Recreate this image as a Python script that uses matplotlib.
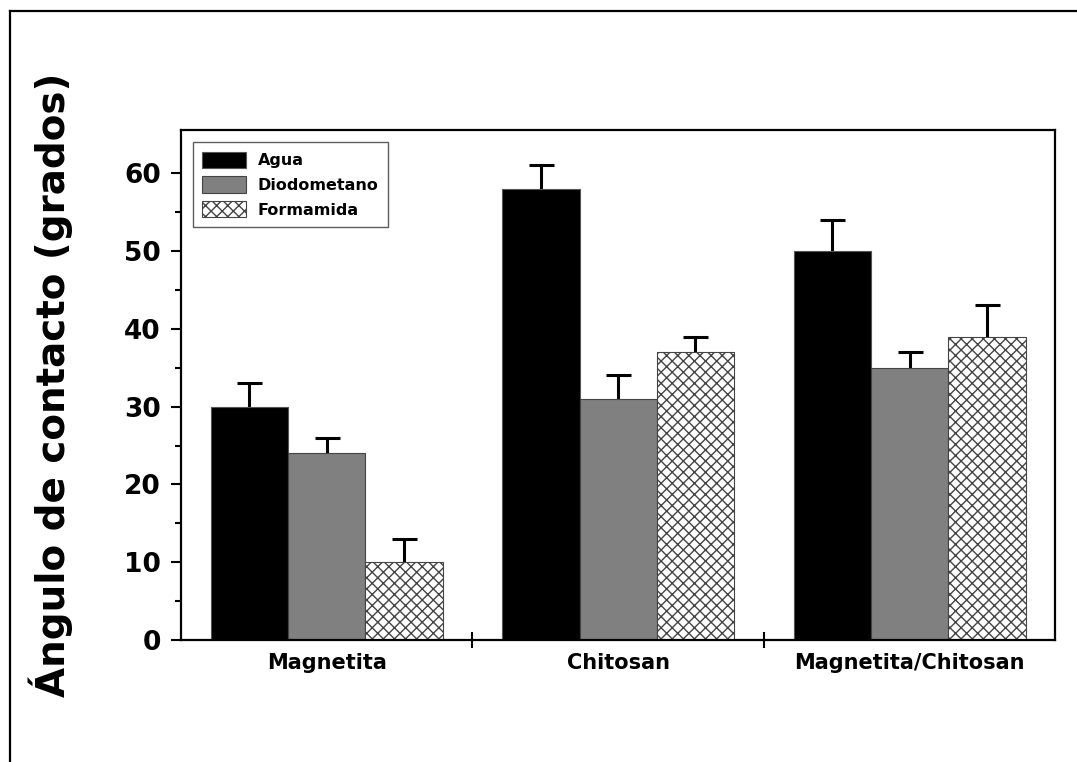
import numpy as np
import matplotlib.pyplot as plt
from matplotlib.lines import Line2D

# ============================================================
# DATA
# ============================================================

categories = ["Magnetita", "Chitosan", "Magnetita/Chitosan"]
series = ["Agua", "Diodometano", "Formamida"]

agua = [30, 58, 50]
agua_err = [3, 3, 4]

diodo = [24, 31, 35]
diodo_err = [2, 3, 2]

forma = [10, 37, 39]
forma_err = [3, 2, 4]

yticks = [0, 10, 20, 30, 40, 50, 60]

# ============================================================
# STYLE
# ============================================================

plt.rcParams["font.family"] = ["DejaVu Sans"]
plt.rcParams["font.weight"] = "bold"
plt.rcParams["hatch.color"] = "#666666"
plt.rcParams["hatch.linewidth"] = 1.0

fig = plt.figure(figsize=(10.77, 7.62), dpi=100)
ax = fig.add_axes([0.168, 0.160, 0.812, 0.669])

x = np.arange(len(categories)) + 0.5
w = 0.265

# error bars sit behind the bars so only the upper half shows
err_kw = dict(fmt="none", ecolor="black", elinewidth=2.2, capsize=9,
              capthick=2.2, zorder=1)

ax.errorbar(x - w, agua, yerr=agua_err, **err_kw)
ax.errorbar(x, diodo, yerr=diodo_err, **err_kw)
ax.errorbar(x + w, forma, yerr=forma_err, **err_kw)

ax.bar(x - w, agua, w, color="black", edgecolor="#555555", linewidth=0.8,
       label=series[0], zorder=2)
ax.bar(x, diodo, w, color="#808080", edgecolor="#444444", linewidth=0.8,
       label=series[1], zorder=2)
ax.bar(x + w, forma, w, color="white", edgecolor="#444444", linewidth=0.8,
       hatch="xxx", label=series[2], zorder=2)

# ============================================================
# AXES
# ============================================================

ax.set_xlim(0, 3)
ax.set_ylim(0, 65.5)

ax.set_yticks(yticks)
ax.set_yticks(np.arange(5, 65, 10), minor=True)
ax.set_yticklabels([str(v) for v in yticks], fontsize=19, fontweight="bold")

ax.set_xticks(x)
ax.set_xticklabels(categories, fontsize=15, fontweight="bold")
ax.tick_params(axis="x", which="major", length=0, pad=9)
ax.set_xticks([1, 2], minor=True)
ax.tick_params(axis="x", which="minor", direction="inout", length=12, width=1.5)

ax.tick_params(axis="y", which="major", direction="out", length=7.5, width=1.5, pad=7)
ax.tick_params(axis="y", which="minor", direction="out", length=4.5, width=1.5)

for s in ax.spines.values():
    s.set_linewidth(1.6)

ax.set_ylabel("Ángulo de contacto (grados)", fontsize=28, fontweight="bold",
              labelpad=37)

leg = ax.legend(loc="upper left", fontsize=11.5, frameon=True, fancybox=False,
                edgecolor="#333333", handlelength=2.7, handleheight=1.2,
                handletextpad=0.75, borderpad=0.6, labelspacing=0.5,
                borderaxespad=0.75)
leg.get_frame().set_linewidth(1.0)
for t in leg.get_texts():
    t.set_fontweight("bold")

# ============================================================
# OUTER FRAME (top + left only visible)
# ============================================================

fig.add_artist(Line2D([10 / 1077, 1.0], [1 - 11 / 762, 1 - 11 / 762],
                      transform=fig.transFigure, color="black", linewidth=1.6))
fig.add_artist(Line2D([10 / 1077, 10 / 1077], [0.0, 1 - 11 / 762],
                      transform=fig.transFigure, color="black", linewidth=1.6))

fig.savefig("out.png", dpi=100)
